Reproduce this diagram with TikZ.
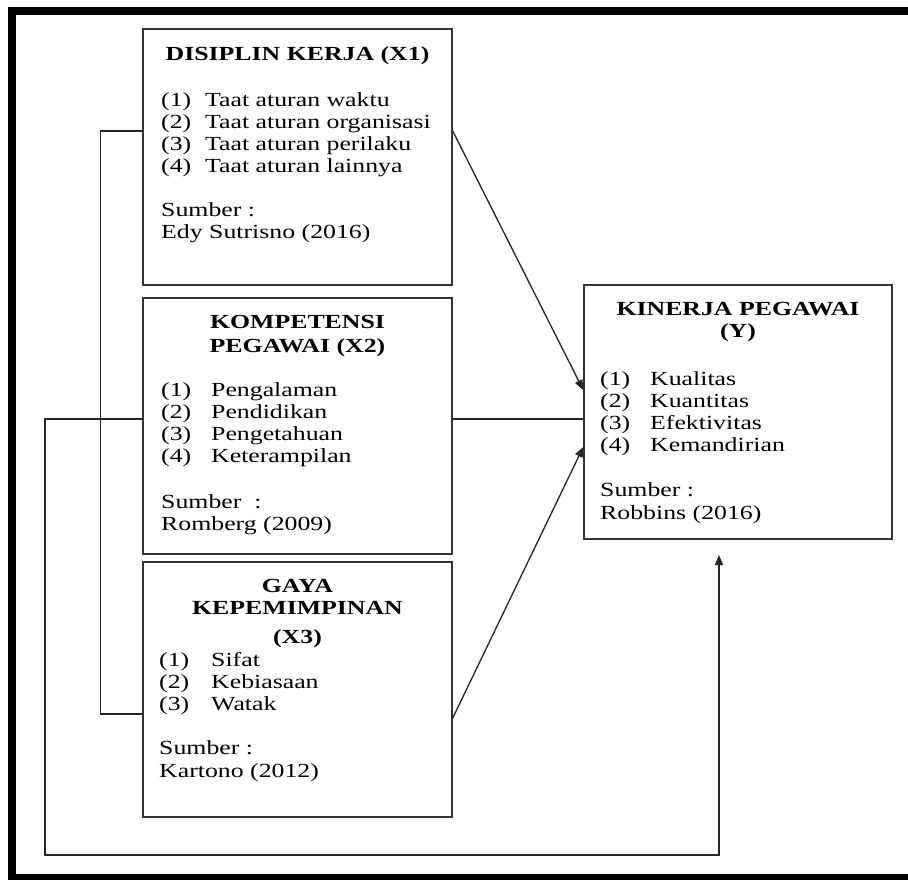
\documentclass[tikz,border=0pt]{standalone}
\usepackage{fontspec}
\setmainfont{Liberation Serif}[FakeStretch=1.29]
\usetikzlibrary{arrows.meta, positioning}

% number column of the indicator lists
\newcommand{\nomor}[2][44pt]{\makebox[#1][l]{#2}}

\begin{document}
\begin{tikzpicture}[x=1pt, y=-1pt,
    varbox/.style={draw=black!80, line width=1.5pt, minimum width=309pt, minimum height=256pt, inner sep=0pt},
    ttl/.style={font=\fontsize{20}{22.3}\selectfont\bfseries, inner sep=0pt, anchor=base},
    txt/.style={font=\fontsize{20}{22.3}\selectfont, inner sep=0pt, anchor=base west},
    conn/.style={line width=1.3pt, black!85},
    arr/.style={conn, -{Triangle[length=10pt, width=8pt]}}]
  \useasboundingbox[fill=white] (0,0) rectangle (908,879);

  % outer frame
  \draw[line width=8pt] (12,11) rectangle (914,878);

  % Disiplin kerja
  \node[varbox] (x1) at (297.5,157) {};
  \node[ttl] (x1h) at (297.5,60) {DISIPLIN KERJA (X1)};
  \node[txt] (x1b) at (161,106) {\begin{tabular}[t]{@{}l@{}}
    \nomor{(1)}Taat aturan waktu\\
    \nomor{(2)}Taat aturan organisasi\\
    \nomor{(3)}Taat aturan perilaku\\
    \nomor{(4)}Taat aturan lainnya\\[21.2pt]
    Sumber :\\
    Edy Sutrisno (2016)
  \end{tabular}};

  % Kompetensi pegawai
  \node[varbox] (x2) at (297.5,426) {};
  \node[ttl] (x2h) at (297.5,328) {\begin{tabular}[t]{@{}c@{}}
    KOMPETENSI\\[1.7pt]
    PEGAWAI (X2)
  \end{tabular}};
  \node[txt] (x2b) at (161,396) {\begin{tabular}[t]{@{}l@{}}
    \nomor[50pt]{(1)}Pengalaman\\
    \nomor[50pt]{(2)}Pendidikan\\
    \nomor[50pt]{(3)}Pengetahuan\\
    \nomor[50pt]{(4)}Keterampilan\\[22.8pt]
    Sumber \ :\\
    Romberg (2009)
  \end{tabular}};

  % Gaya kepemimpinan
  \node[varbox, minimum height=255pt] (x3) at (297.5,689.5) {};
  \node[ttl] (x3h) at (297.5,592) {\begin{tabular}[t]{@{}c@{}}
    GAYA\\
    KEPEMIMPINAN\\[6.7pt]
    (X3)
  \end{tabular}};
  \node[txt] (x3b) at (159,666) {\begin{tabular}[t]{@{}l@{}}
    \nomor[52pt]{(1)}Sifat\\
    \nomor[52pt]{(2)}Kebiasaan\\
    \nomor[52pt]{(3)}Watak\\[22pt]
    Sumber :\\
    Kartono (2012)
  \end{tabular}};

  % Kinerja pegawai
  \node[varbox, minimum width=308pt, minimum height=254pt] (ky) at (738,412) {};
  \node[ttl] (kyh) at (738,315) {\begin{tabular}[t]{@{}c@{}}
    KINERJA PEGAWAI\\
    (Y)
  \end{tabular}};
  \node[txt] (kyb) at (600,385) {\begin{tabular}[t]{@{}l@{}}
    \nomor[50pt]{(1)}Kualitas\\
    \nomor[50pt]{(2)}Kuantitas\\
    \nomor[50pt]{(3)}Efektivitas\\
    \nomor[50pt]{(4)}Kemandirian\\[22.7pt]
    Sumber :\\
    Robbins (2016)
  \end{tabular}};

  % partial effects
  \draw[arr] ([yshift=26pt]x1.east) -- ([yshift=22pt]ky.west);
  \draw[conn] ([yshift=7pt]x2.east) -- ([yshift=7pt]x2.east -| ky.west);
  \draw[arr] ([yshift=-28.5pt]x3.east) -- ([yshift=-35pt]ky.west);

  % bracket joining the three variables
  \draw[conn] ([yshift=26pt]x1.west) -- ++(-42,0) |- ([yshift=-24.5pt]x3.west);

  % simultaneous effect
  \coordinate (loopl) at (45,855);
  \coordinate (loopr) at (719,855);
  \coordinate (tip) at (719,555);
  \draw[arr] ([yshift=7pt]x2.west) -| (loopl) -- (loopr) -- (tip);
\end{tikzpicture}
\end{document}
